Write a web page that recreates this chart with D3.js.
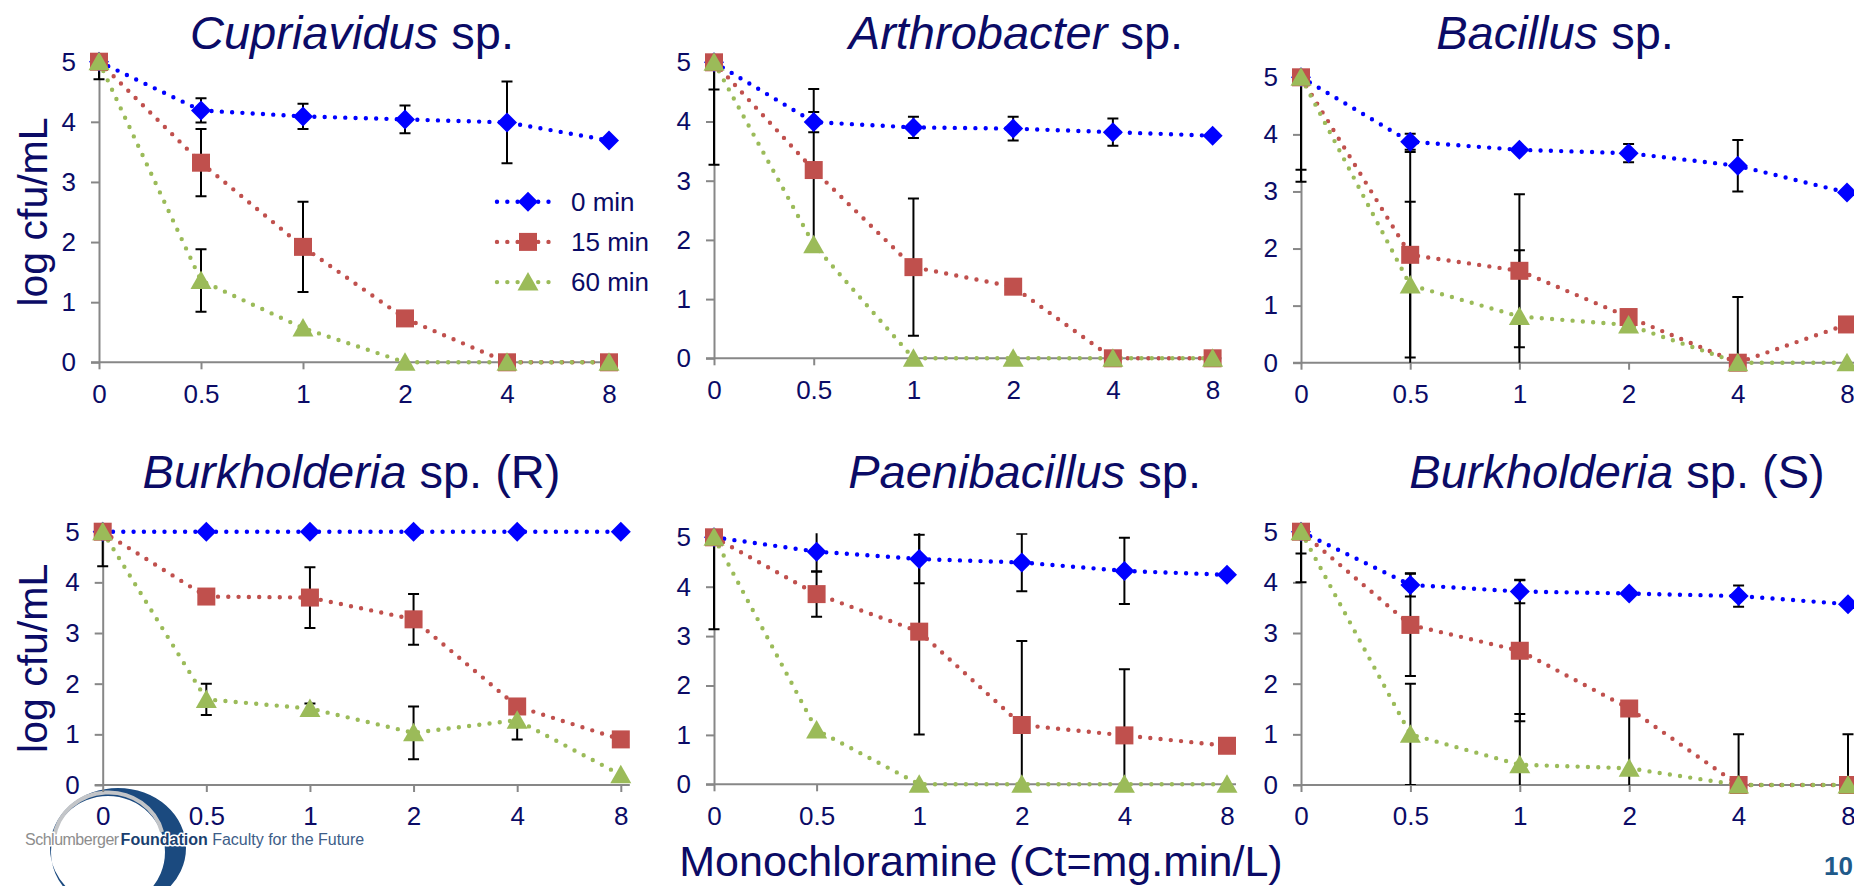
<!DOCTYPE html>
<html><head><meta charset="utf-8">
<script src="https://cdn.jsdelivr.net/npm/d3@7"></script>
<style>
html,body{margin:0;padding:0;background:#fff;overflow:hidden}
svg{display:block}
text{font-family:"Liberation Sans",Arial,sans-serif}
</style></head><body>
<svg id="c" width="1854" height="886"></svg>
<script>
// ---------- DATA ----------
const categories = ["0", "0.5", "1", "2", "4", "8"];
const yTickValues = [0, 1, 2, 3, 4, 5];
const seriesLabels = ["0 min", "15 min", "60 min"];
const genusNames = ["Cupriavidus", "Arthrobacter", "Bacillus", "Burkholderia", "Paenibacillus", "Burkholderia"];
const titleSuffixes = [" sp.", " sp.", " sp.", " sp. (R)", " sp.", " sp. (S)"];
const yAxisTitle = "log cfu/mL";
const xAxisTitle = "Monochloramine (Ct=mg.min/L)";

// Cupriavidus sp.
const cupriavidus0 = [5, 4.19, 4.09, 4.04, 3.99, 3.69];
const cupriavidus15 = [5, 3.32, 1.92, 0.73, 0, 0];
const cupriavidus60 = [5, 1.36, 0.57, 0, 0, 0];
const cupriavidusErr0 = [0.29, 0.2, 0.21, 0.23, 0.68, 0];
const cupriavidusErr15 = [0, 0.56, 0.75, 0, 0, 0];
const cupriavidusErr60 = [0, 0.52, 0, 0, 0, 0];
// Arthrobacter sp.
const arthrobacter0 = [5, 3.99, 3.90, 3.88, 3.82, 3.76];
const arthrobacter15 = [5, 3.18, 1.54, 1.21, 0, 0];
const arthrobacter60 = [5, 1.92, 0, 0, 0, 0];
const arthrobacterErr0 = [0, 0.17, 0.18, 0.2, 0.23, 0];
const arthrobacterErr15 = [0.46, 1.37, 1.16, 0, 0, 0];
const arthrobacterErr60 = [1.73, 0, 0, 0, 0, 0];
// Bacillus sp.
const bacillus0 = [5, 3.87, 3.73, 3.67, 3.45, 2.98];
const bacillus15 = [5, 1.89, 1.61, 0.8, 0, 0.67];
const bacillus60 = [5, 1.36, 0.81, 0.66, 0, 0];
const bacillusErr0 = [0, 0.14, 0, 0.16, 0.45, 0];
const bacillusErr15 = [1.62, 1.8, 1.34, 0, 1.15, 0];
const bacillusErr60 = [1.83, 1.46, 1.16, 0, 0, 0];
// Burkholderia sp. (R)
const burkR0 = [5, 5, 5, 5, 5, 5];
const burkR15 = [5, 3.72, 3.70, 3.27, 1.55, 0.90];
const burkR60 = [5, 1.69, 1.51, 1.03, 1.28, 0.2];
const burkRErr0 = [0, 0, 0, 0, 0, 0];
const burkRErr15 = [0.68, 0, 0.6, 0.5, 0, 0];
const burkRErr60 = [0, 0.31, 0.1, 0.52, 0.38, 0];
// Paenibacillus sp.
const paenibacillus0 = [5, 4.71, 4.56, 4.49, 4.32, 4.24];
const paenibacillus15 = [5, 3.85, 3.09, 1.2, 0.99, 0.78];
const paenibacillus60 = [5, 1.1, 0, 0, 0, 0];
const paenibacillusErr0 = [0, 0.4, 0.49, 0.58, 0.67, 0];
const paenibacillusErr15 = [0, 0.46, 2.08, 1.7, 1.34, 0];
const paenibacillusErr60 = [1.86, 0, 0, 0, 0, 0];
// Burkholderia sp. (S)
const burkS0 = [5, 3.95, 3.82, 3.78, 3.73, 3.57];
const burkS15 = [5, 3.16, 2.65, 1.51, 0, 0];
const burkS60 = [5, 1.0, 0.4, 0.33, 0, 0];
const burkSErr0 = [0, 0.23, 0.23, 0, 0.21, 0];
const burkSErr15 = [0.43, 1.01, 1.39, 0, 1.0, 1.0];
const burkSErr60 = [1.0, 1.0, 1.0, 1.2, 0, 0];

const panelValues = [
  [cupriavidus0, cupriavidus15, cupriavidus60],
  [arthrobacter0, arthrobacter15, arthrobacter60],
  [bacillus0, bacillus15, bacillus60],
  [burkR0, burkR15, burkR60],
  [paenibacillus0, paenibacillus15, paenibacillus60],
  [burkS0, burkS15, burkS60]
];
const panelErrors = [
  [cupriavidusErr0, cupriavidusErr15, cupriavidusErr60],
  [arthrobacterErr0, arthrobacterErr15, arthrobacterErr60],
  [bacillusErr0, bacillusErr15, bacillusErr60],
  [burkRErr0, burkRErr15, burkRErr60],
  [paenibacillusErr0, paenibacillusErr15, paenibacillusErr60],
  [burkSErr0, burkSErr15, burkSErr60]
];

// ---------- LAYOUT / STYLE ----------
const layout = [
  {x0: 99, x1: 609, yTop: 61.7, yBot: 362.3, tx: 352, ty: 49, ylab: true, legend: true},
  {x0: 714, x1: 1212.6, yTop: 62.3, yBot: 358.3, tx: 1016, ty: 49},
  {x0: 1301, x1: 1847, yTop: 77.3, yBot: 362.7, tx: 1555, ty: 49},
  {x0: 102.7, x1: 620.8, yTop: 531.7, yBot: 785, tx: 351.5, ty: 488, ylab: true},
  {x0: 714, x1: 1227, yTop: 537.3, yBot: 784.3, tx: 1024.6, ty: 488},
  {x0: 1301, x1: 1848, yTop: 531.7, yBot: 785, tx: 1617, ty: 488}
];
const colors = ["#0000FF", "#C0504D", "#9BBB59"];
const navy = "#0b0b66";
const axisGray = "#878787";
const tickFont = 26;

const svg = d3.select("#c");

// ---------- LOGO (decoration) ----------
const logo = svg.append("g");
logo.append("path")
  .attr("d", "M50,848 A68,60 0 1,0 186,848 A68,60 0 1,0 50,848 Z M51,852 A57,56 0 1,1 165,852 A57,56 0 1,1 51,852 Z")
  .attr("fill", "#1b4a7f").attr("fill-rule", "evenodd");
logo.append("path")
  .attr("d", "M54,838 A55,52 0 0,1 162,832")
  .attr("fill", "none").attr("stroke", "#c3c5c8").attr("stroke-width", 4);
const lt = logo.append("text").attr("x", 25).attr("y", 845).attr("font-size", 16)
  .attr("stroke", "#fff").attr("stroke-width", 3).attr("paint-order", "stroke").attr("stroke-linejoin", "round");
lt.append("tspan").attr("fill", "#8d8d8d").attr("letter-spacing", -0.5).text("Schlumberger");
lt.append("tspan").attr("fill", "#1a3f6f").attr("font-weight", "bold").attr("dx", 2).text("Foundation");
lt.append("tspan").attr("fill", "#3d5d88").text(" Faculty for the Future");

// ---------- PANELS ----------
function markerPath(k, cx, cy) {
  const p = d3.path();
  if (k === 0) { const r = 10; p.moveTo(cx, cy - r); p.lineTo(cx + r, cy); p.lineTo(cx, cy + r); p.lineTo(cx - r, cy); p.closePath(); }
  else if (k === 1) { const h = 9; p.rect(cx - h, cy - h, 2 * h, 2 * h); }
  else { p.moveTo(cx, cy - 10); p.lineTo(cx + 10.5, cy + 8.5); p.lineTo(cx - 10.5, cy + 8.5); p.closePath(); }
  return p.toString();
}
const dotStyle = sel => sel.attr("fill", "none").attr("stroke-width", 4.4)
  .attr("stroke-linecap", "round").attr("stroke-dasharray", "0 10.3");

layout.forEach((L, pi) => {
  const g = svg.append("g");
  const x = d3.scalePoint().domain(categories).range([L.x0, L.x1]);
  const y = d3.scaleLinear().domain([0, 5]).range([L.yBot, L.yTop]);

  // title
  const t = g.append("text").attr("x", L.tx).attr("y", L.ty).attr("text-anchor", "middle")
    .attr("font-size", 47).attr("fill", navy);
  t.append("tspan").attr("font-style", "italic").text(genusNames[pi]);
  t.append("tspan").text(titleSuffixes[pi]);

  // y axis
  const ya = g.append("g").attr("transform", `translate(${L.x0},0)`)
    .call(d3.axisLeft(y).tickValues(yTickValues).tickFormat(d3.format("d")).tickSize(8).tickSizeOuter(0).tickPadding(15));
  ya.select(".domain").attr("stroke", axisGray).attr("stroke-width", 2);
  ya.selectAll(".tick line").attr("stroke", axisGray).attr("stroke-width", 2);
  ya.selectAll(".tick text").attr("fill", navy).attr("font-size", tickFont).attr("font-family", "Liberation Sans, Arial, sans-serif");

  // x axis
  const xa = g.append("g").attr("transform", `translate(0,${L.yBot})`)
    .call(d3.axisBottom(x).tickSize(7).tickSizeOuter(0).tickPadding(15));
  xa.select(".domain").attr("d", `M${L.x0 - 8},0H${L.x1 + 9}`).attr("stroke", axisGray).attr("stroke-width", 2);
  xa.selectAll(".tick line").attr("stroke", axisGray).attr("stroke-width", 2);
  xa.selectAll(".tick text").attr("fill", navy).attr("font-size", tickFont).attr("font-family", "Liberation Sans, Arial, sans-serif");

  if (L.ylab) {
    g.append("text").attr("transform", `translate(33,${(L.yTop + L.yBot) / 2}) rotate(-90)`)
      .attr("text-anchor", "middle").attr("dominant-baseline", "central")
      .attr("font-size", 41).attr("fill", navy).text(yAxisTitle);
  }

  // clip for error bars
  const cid = "clip" + pi;
  svg.append("clipPath").attr("id", cid).append("rect")
    .attr("x", L.x0 - 30).attr("y", L.yTop - 4).attr("width", L.x1 - L.x0 + 60).attr("height", L.yBot - L.yTop + 4);

  const eg = g.append("g").attr("clip-path", `url(#${cid})`);
  panelValues[pi].forEach((vals, k) => {
    const errs = panelErrors[pi][k];
    const pts = categories.map((c, i) => ({c, v: vals[i], e: errs[i]})).filter(d => d.e > 0);
    eg.selectAll(null).data(pts).enter().append("path")
      .attr("d", d => {
        const xx = x(d.c), hi = y(d.v + d.e), lo = y(d.v - d.e), w = 5.5;
        return `M${xx},${hi}V${lo}M${xx - w},${hi}H${xx + w}M${xx - w},${lo}H${xx + w}`;
      })
      .attr("stroke", "#000").attr("stroke-width", 2).attr("fill", "none");
  });

  // lines
  const line = d3.line().x((d, i) => x(categories[i])).y(d => y(d));
  panelValues[pi].forEach((vals, k) => {
    g.append("path").datum(vals).attr("d", line).attr("stroke", colors[k]).call(dotStyle);
  });
  // markers
  panelValues[pi].forEach((vals, k) => {
    g.selectAll(null).data(vals).enter().append("path")
      .attr("d", (d, i) => markerPath(k, x(categories[i]), y(d)))
      .attr("fill", colors[k]);
  });

  // legend
  if (L.legend) {
    const lg = g.append("g");
    seriesLabels.forEach((lab, k) => {
      const ly = 201.7 + k * 40.2;
      lg.append("path").attr("d", `M497,${ly}H555`).attr("stroke", colors[k]).call(dotStyle);
      lg.append("path").attr("d", markerPath(k, 528, ly)).attr("fill", colors[k]);
      lg.append("text").attr("x", 571).attr("y", ly).attr("dy", "0.35em")
        .attr("font-size", 26).attr("fill", navy).text(lab);
    });
  }
});

// x axis title
svg.append("text").attr("x", 981).attr("y", 876).attr("text-anchor", "middle")
  .attr("font-size", 43).attr("fill", navy).text(xAxisTitle);
// page number
svg.append("text").attr("x", 1853).attr("y", 875).attr("text-anchor", "end")
  .attr("font-size", 26).attr("font-weight", "bold").attr("fill", "#1f5a8a").text("10");
</script>
</body></html>
